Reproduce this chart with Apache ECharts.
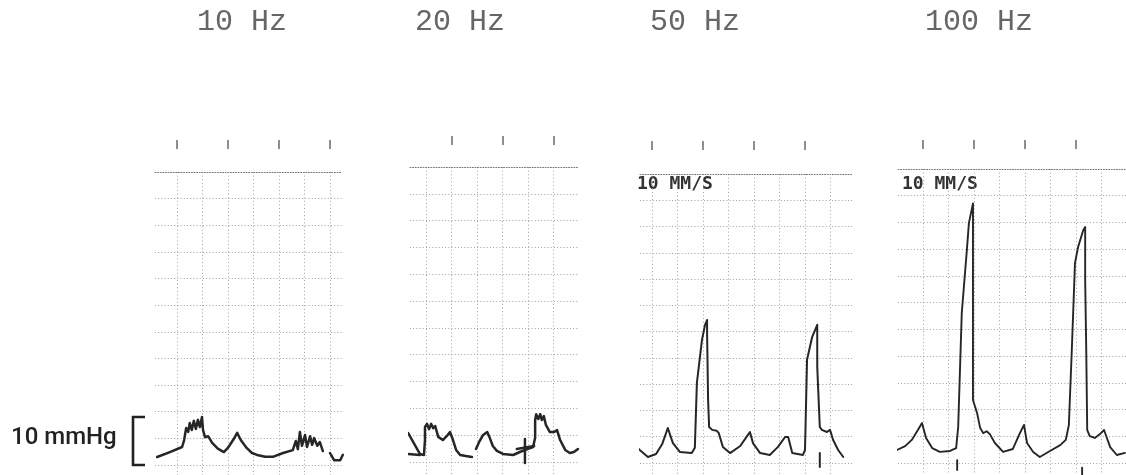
<!DOCTYPE html>
<html>
<head>
<meta charset="utf-8">
<script src="https://cdn.jsdelivr.net/npm/echarts@6/dist/echarts.min.js"></script>
<style>
  html, body { margin: 0; padding: 0; background: #fff; }
  #chart { width: 1126px; height: 475px; }
</style>
</head>
<body>
<div id="chart"></div>
<script>
// Stimulation frequency of each recording strip
const frequencies = ['10 Hz', '20 Hz', '50 Hz', '100 Hz'];
const paperSpeedLabel = '10 MM/S';
const paperSpeedShown = [false, false, true, true];

// Calibration bar on the left of the first strip (mmHg)
const scaleBarMmHg = [0, 10];
const scaleBarLabel = '10 mmHg';

// Chart-paper rulings: horizontal lines (mmHg) and top edge of the paper
const pressureRulingsMmHg = [0, 5.55, 11.1, 16.65, 22.2, 27.75, 33.3, 38.85, 44.4, 49.95, 55.5];
const pressureTopMmHg = 61.05;

// Vertical rulings (s) per strip, 0.5 s apart at 10 mm/s
const timeRulings10Hz = [0, 0.5, 1, 1.5, 2, 2.5, 3];
const timeRulings20Hz = [0, 0.5, 1, 1.5, 2, 2.5, 3];
const timeRulings50Hz = [0, 0.5, 1, 1.5, 2, 2.5, 3, 3.5];
const timeRulings100Hz = [0, 0.5, 1, 1.5, 2, 2.5, 3, 3.5];

// One-second timing marks printed above each strip (s)
const timeMarks10Hz = [0, 1, 2, 3];
const timeMarks20Hz = [0.5, 1.5, 2.5];
const timeMarks50Hz = [0, 1, 2, 3];
const timeMarks100Hz = [0, 1, 2, 3];

// Pressure traces [time s, pressure mmHg]; each inner list is one continuous pen stroke
const trace10Hz = [
  [[-0.39, 1.67], [-0.14, 2.7], [0.10, 3.75], [0.14, 5.2], [0.18, 7.7], [0.22, 6.9], [0.25, 8.75],
   [0.29, 7.3], [0.33, 9.2], [0.37, 7.5], [0.41, 9.4], [0.45, 7.9], [0.49, 10.0], [0.51, 7.3],
   [0.55, 5.8], [0.61, 6.0], [0.69, 4.6], [0.80, 3.4], [0.92, 2.7], [1.00, 3.6], [1.10, 5.2],
   [1.18, 6.7], [1.25, 5.2], [1.37, 3.5], [1.47, 2.5], [1.57, 2.1], [1.73, 1.7], [1.88, 1.7],
   [2.08, 2.5], [2.27, 3.1], [2.33, 5.0], [2.37, 3.3], [2.41, 6.9], [2.45, 4.0], [2.51, 6.25],
   [2.55, 3.75], [2.61, 6.0], [2.65, 4.2], [2.69, 5.6], [2.75, 4.0], [2.80, 4.8], [2.86, 2.9]],
  [[3.0, 2.5], [3.08, 1.0], [3.2, 1.0], [3.25, 2.1]]
];
const trace20Hz = [
  [[-0.35, 6.0], [-0.12, 1.66], [-0.04, 1.45], [-0.02, 4.55], [-0.02, 7.25], [0.02, 7.9],
   [0.06, 6.8], [0.10, 7.9], [0.14, 7.0], [0.18, 7.45], [0.24, 5.2], [0.33, 4.55], [0.41, 5.4],
   [0.47, 6.2], [0.53, 4.55], [0.59, 2.5], [0.67, 1.45], [0.78, 1.24], [0.90, 1.04]],
  [[0.98, 2.7], [1.04, 4.1], [1.12, 5.6], [1.20, 6.2], [1.25, 5.0], [1.31, 3.3], [1.39, 2.3],
   [1.51, 1.66], [1.71, 1.45], [1.84, 2.07], [2.0, 2.7], [2.10, 3.1], [2.14, 5.0], [2.14, 8.7],
   [2.16, 9.9], [2.20, 8.9], [2.24, 9.9], [2.27, 8.7], [2.31, 9.5], [2.35, 7.7], [2.43, 6.2],
   [2.51, 6.2], [2.57, 6.6], [2.63, 4.55], [2.73, 2.5], [2.82, 1.86], [2.90, 2.07], [2.98, 2.7]]
];
const trace50Hz = [
  [[-0.37, 4.2], [-0.24, 2.75], [-0.08, 1.27], [0.08, 1.9], [0.20, 4.0], [0.31, 7.4], [0.41, 4.2],
   [0.55, 2.3], [0.78, 2.1], [0.84, 3.2], [0.88, 16.9], [0.98, 26.0], [1.04, 29.2], [1.08, 30.2],
   [1.08, 27.5], [1.10, 13.3], [1.12, 7.6], [1.18, 7.0], [1.27, 6.8], [1.31, 6.3], [1.39, 3.4],
   [1.53, 2.1], [1.73, 3.6], [1.84, 5.3], [1.92, 6.55], [1.98, 4.2], [2.12, 2.1], [2.31, 1.7],
   [2.47, 3.4], [2.61, 5.5], [2.67, 5.5], [2.75, 2.1], [2.96, 1.7], [3.0, 2.75], [3.04, 21.8],
   [3.14, 26.6], [3.24, 29.2], [3.24, 20.3], [3.29, 7.6], [3.33, 7.0], [3.43, 6.55], [3.49, 7.0],
   [3.55, 4.9], [3.65, 2.75], [3.75, 1.27]]
];
const trace100Hz = [
  [[-0.51, 2.7], [-0.35, 3.5], [-0.22, 4.8], [-0.10, 6.85], [-0.02, 8.3], [0.06, 5.2], [0.18, 3.1],
   [0.33, 2.3], [0.53, 2.5], [0.65, 3.1], [0.69, 7.5], [0.76, 31.1], [0.86, 44.2], [0.90, 49.8],
   [0.98, 53.9], [1.0, 53.9], [0.98, 33.8], [0.98, 13.1], [1.06, 10.4], [1.12, 7.3], [1.18, 6.2],
   [1.25, 6.6], [1.31, 6.0], [1.41, 4.15], [1.57, 2.3], [1.76, 2.9], [1.90, 6.2], [1.98, 7.9],
   [2.04, 4.15], [2.16, 2.3], [2.29, 1.24], [2.49, 2.5], [2.69, 3.7], [2.80, 4.8], [2.86, 7.9],
   [2.92, 24.1], [2.98, 41.5], [3.04, 44.8], [3.14, 48.3], [3.18, 49.0], [3.18, 38.0], [3.20, 24.1],
   [3.22, 6.85], [3.27, 5.6], [3.37, 5.2], [3.47, 6.0], [3.55, 6.85], [3.67, 3.3], [3.80, 1.66],
   [3.96, 2.1]]
];

// Event-marker pen strokes below the traces
const marks10Hz = [];
const marks20Hz = [
  [[-0.35, 1.66], [-0.12, 1.45]],
  [[1.94, 4.76], [1.94, -0.2]],
  [[1.78, 2.7], [2.12, 3.3]]
];
const marks50Hz = [[[3.29, 2.1], [3.29, -0.85]]];
const marks100Hz = [[[0.67, 0.6], [0.67, -1.45]], [[3.12, -1.0], [3.12, -2.5]]];

const timeRulings = [timeRulings10Hz, timeRulings20Hz, timeRulings50Hz, timeRulings100Hz];
const timeMarks = [timeMarks10Hz, timeMarks20Hz, timeMarks50Hz, timeMarks100Hz];
const traces = [trace10Hz, trace20Hz, trace50Hz, trace100Hz];
const marks = [marks10Hz, marks20Hz, marks50Hz, marks100Hz];

// Page layout of each strip (pixels)
const H = 475;
const PX_PER_S = 51;
const strips = [
  { left: 155, right: 342, x0: 177, top: 172, zero: 465, markOffset: 23, titleX: 242, lineW: 2.5 },
  { left: 410, right: 578, x0: 426, top: 167, zero: 462, markOffset: 22, titleX: 460, lineW: 2.5 },
  { left: 640, right: 852, x0: 652, top: 174, zero: 463, markOffset: 24, titleX: 695, lineW: 2.0 },
  { left: 898, right: 1126, x0: 923, top: 169, zero: 463, markOffset: 20, titleX: 979, lineW: 1.9 }
];

const INK = '#262626';
const RULE = '#a0a0a0';

const grid = [], xAxis = [], yAxis = [], series = [], texts = [];

strips.forEach((s, i) => {
  const xMin = (s.left - s.x0) / PX_PER_S;
  const xMax = (s.right - s.x0) / PX_PER_S;
  const pxPerMmHg = (s.zero - s.top) / pressureTopMmHg;
  const yMin = -(H - s.zero) / pxPerMmHg;
  s.yMin = yMin;

  grid.push({ left: s.left, top: s.top, width: s.right - s.left, height: H - s.top });

  // paper edge + vertical rulings
  xAxis.push({
    type: 'value', gridIndex: i, position: 'top', min: xMin, max: xMax,
    axisLine: { show: true, onZero: false, lineStyle: { color: '#777', width: 1, type: [1, 1.6] } },
    axisTick: { show: false, customValues: timeRulings[i] },
    axisLabel: { show: false },
    splitLine: { show: true, lineStyle: { color: RULE, width: 1, type: [1, 2.6] } }
  });
  // one-second timing marks above the paper
  xAxis.push({
    type: 'value', gridIndex: i, position: 'top', offset: s.markOffset, min: xMin, max: xMax,
    axisLine: { show: false, onZero: false },
    axisTick: { show: true, inside: false, length: 9, customValues: timeMarks[i],
                lineStyle: { color: '#6a6a6a', width: 1.5 } },
    axisLabel: { show: false },
    splitLine: { show: false }
  });
  yAxis.push({
    type: 'value', gridIndex: i, min: yMin, max: pressureTopMmHg,
    axisLine: { show: false },
    axisTick: { show: false, customValues: pressureRulingsMmHg },
    axisLabel: { show: false },
    splitLine: { show: true, lineStyle: { color: RULE, width: 1, type: [1, 2.2] } }
  });

  const strokes = traces[i].concat(marks[i]);
  strokes.forEach(seg => {
    series.push({
      type: 'line', xAxisIndex: 2 * i, yAxisIndex: i, data: seg,
      showSymbol: false, clip: false, silent: true,
      lineStyle: { color: INK, width: s.lineW, join: 'round', cap: 'round' }
    });
  });

  texts.push({
    type: 'text', x: s.titleX, y: 22, silent: true,
    style: { text: frequencies[i], fontFamily: '"Liberation Mono", monospace', fontSize: 30,
             fill: '#666', align: 'center', verticalAlign: 'middle' }
  });
  if (paperSpeedShown[i]) {
    texts.push({
      type: 'text', x: s.left - 3 + (i === 3 ? 7 : 0), y: 184, silent: true,
      style: { text: paperSpeedLabel, fontFamily: '"DejaVu Sans Mono", monospace', fontSize: 18,
               fontWeight: 'bold', fill: '#333', align: 'left', verticalAlign: 'middle' }
    });
  }
});

// Calibration bracket drawn on the first strip's pressure scale
const gi = strips.length;
grid.push({ left: 133, top: strips[0].top, width: 12, height: H - strips[0].top });
xAxis.push({ type: 'value', gridIndex: gi, min: 0, max: 1, show: false });
yAxis.push({ type: 'value', gridIndex: gi, min: strips[0].yMin, max: pressureTopMmHg, show: false });
series.push({
  type: 'line', xAxisIndex: xAxis.length - 1, yAxisIndex: yAxis.length - 1, showSymbol: false, silent: true,
  data: [[1, scaleBarMmHg[1]], [0, scaleBarMmHg[1]], [0, scaleBarMmHg[0]], [1, scaleBarMmHg[0]]],
  lineStyle: { color: '#222', width: 2.6, join: 'miter', cap: 'butt' }
});
texts.push({
  type: 'text', x: 11, y: 438, silent: true,
  style: { text: scaleBarLabel, fontFamily: 'Roboto, sans-serif', fontSize: 24, fontWeight: 500,
           fill: '#222', align: 'left', verticalAlign: 'middle' }
});

const chart = echarts.init(document.getElementById('chart'), null, { renderer: 'canvas' });
chart.setOption({
  animation: false,
  backgroundColor: '#fff',
  grid, xAxis, yAxis, series,
  graphic: { elements: texts }
});
</script>
</body>
</html>
